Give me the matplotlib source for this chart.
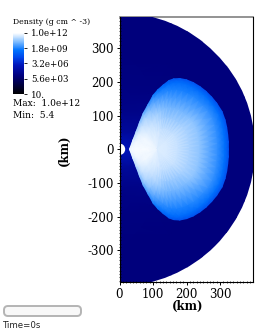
import numpy as np
import matplotlib
matplotlib.use('Agg')
import matplotlib.pyplot as plt
from matplotlib.colors import LinearSegmentedColormap, Normalize
from matplotlib.cm import ScalarMappable
from matplotlib.patches import Circle, FancyBboxPatch
from matplotlib.ticker import MultipleLocator
from matplotlib.transforms import IdentityTransform

W, H = 266, 332

# log10 density
ambient_theta_deg = [0, 30, 60, 90]
ambient_r = [0, 30, 60, 120, 200, 300, 460]
ambient_logd = [
    [6.2, 6.0, 5.3, 4.7, 4.4, 4.3, 4.3],
    [6.2, 5.9, 5.3, 4.7, 4.4, 4.3, 4.3],
    [6.0, 5.8, 5.2, 4.7, 4.4, 4.3, 4.3],
    [5.8, 5.6, 5.1, 4.6, 4.4, 4.3, 4.3],
]
shell_radius = 405
hole_radius = 17

lobe_center_x = 110
lobe_edge_x = [325, 325, 323, 320, 315, 306, 290, 275, 258, 240, 220, 200,
               180, 162, 148, 131, 115, 101, 86, 71, 60, 50, 40, 30]
lobe_edge_y = [0, 22, 43, 65, 87, 112, 137, 155, 172, 186, 198, 206,
               210, 209, 204, 191, 177, 161, 134, 107, 80, 53, 27, 0]
lobe_frac = [0, 0.3, 0.6, 0.85, 0.95, 1]
lobe_logd = [
    [11.7, 11.3, 10.6, 9.5, 8.8, 8.0],
    [11.7, 11.3, 10.6, 9.5, 8.8, 8.0],
    [11.7, 11.3, 10.6, 9.5, 8.8, 8.0],
    [11.7, 11.3, 10.6, 9.5, 8.8, 8.0],
    [11.7, 11.3, 10.6, 9.5, 8.8, 8.0],
    [11.7, 11.3, 10.6, 9.5, 8.8, 8.0],
    [11.7, 11.3, 10.6, 9.5, 8.8, 8.0],
    [11.7, 11.3, 10.5, 9.4, 8.8, 8.0],
    [11.7, 11.2, 10.4, 9.3, 8.8, 8.0],
    [11.7, 11.2, 10.3, 9.3, 8.7, 8.0],
    [11.7, 11.2, 10.3, 9.2, 8.7, 8.0],
    [11.7, 11.2, 10.2, 9.2, 8.7, 8.0],
    [11.7, 11.2, 10.2, 9.2, 8.7, 8.0],
    [11.7, 11.2, 10.3, 9.2, 8.7, 8.0],
    [11.7, 11.3, 10.4, 9.3, 8.8, 8.1],
    [11.7, 11.4, 10.6, 9.5, 9.0, 8.4],
    [11.7, 11.4, 10.8, 9.7, 9.2, 8.7],
    [11.7, 11.5, 11.0, 10.0, 9.5, 9.0],
    [11.7, 11.6, 11.2, 10.5, 10.0, 9.5],
    [11.7, 11.6, 11.4, 11.0, 10.5, 10.0],
    [11.7, 11.7, 11.6, 11.3, 10.9, 10.5],
    [11.7, 11.8, 11.8, 11.6, 11.3, 10.9],
    [11.7, 11.8, 11.8, 11.8, 11.6, 11.5],
    [11.7, 11.9, 11.9, 11.9, 11.9, 11.8],
]

bar_ticks = [12, 9.25, 6.5, 3.75, 1]
bar_labels = ['1.0e+12', '1.8e+09', '3.2e+06', '5.6e+03', '10.']
xticks = [0, 100, 200, 300]
yticks = [-300, -200, -100, 0, 100, 200, 300]

cmap = LinearSegmentedColormap.from_list('density', [
    (0.0, (0, 0, 0)),
    (0.3, (0, 0, 125 / 255)),
    (0.47, (0, 20 / 255, 185 / 255)),
    (0.6, (0, 70 / 255, 235 / 255)),
    (0.72, (0, 115 / 255, 1)),
    (0.86, (130 / 255, 190 / 255, 1)),
    (1.0, (1, 1, 1)),
])
norm = Normalize(1, 12)

fig = plt.figure(figsize=(W / 100, H / 100), dpi=100)
serif = 'DejaVu Serif'

ax = fig.add_axes([119.5 / W, 1 - 282 / H, 133 / W, 265.5 / H])

# ambient medium, polar about the origin, cut off at the outer shell
shell = Circle((0, 0), shell_radius, transform=ax.transData)
th, rr = np.meshgrid(np.radians(ambient_theta_deg), ambient_r, indexing='ij')
for sign in (1, -1):
    m = ax.pcolormesh(rr * np.cos(th), sign * rr * np.sin(th), np.array(ambient_logd),
                      shading='gouraud', cmap=cmap, norm=norm)
    m.set_clip_path(shell)

# lobe, rings between its centre and the outline
ex = np.array(lobe_edge_x, dtype=float)
ey = np.array(lobe_edge_y, dtype=float)
fr = np.array(lobe_frac)
lx = lobe_center_x + np.outer(ex - lobe_center_x, fr)
ly = np.outer(ey, fr)
for sign in (1, -1):
    ax.pcolormesh(lx, sign * ly, np.array(lobe_logd),
                  shading='gouraud', cmap=cmap, norm=norm)

ax.add_patch(Circle((0, 0), hole_radius, facecolor='white', edgecolor='none', zorder=2))

ax.set_xlim(0, 397)
ax.set_ylim(-394, 394)
ax.set_xticks(xticks)
ax.set_yticks(yticks)
ax.set_yticklabels([str(v) for v in yticks])
ax.xaxis.set_minor_locator(MultipleLocator(10))
ax.yaxis.set_minor_locator(MultipleLocator(10))
ax.tick_params(which='major', length=2.5, width=0.7, direction='out', pad=1.5, labelsize=8.5)
ax.tick_params(which='minor', length=1.2, width=0.5, direction='inout')
for lab in ax.get_xticklabels() + ax.get_yticklabels():
    lab.set_family(serif)
for name in ax.spines:
    ax.spines[name].set_linewidth(0.8)
ax.spines['top'].set_color('#808080')
ax.spines['top'].set_linewidth(1.2)
ax.spines['top'].set_zorder(0)

fig.text(188 / W, 1 - 306 / H, '(km)', family=serif, weight='bold', fontsize=8.5,
         ha='center', va='center')
fig.text(64 / W, 1 - 150 / H, '(km)', family=serif, weight='bold', fontsize=8.5,
         rotation=90, ha='center', va='center')

# legend
fig.text(13 / W, 1 - 22 / H, 'Density (g cm ^ -3)', family=serif, fontsize=5.6,
         ha='left', va='center')
cax = fig.add_axes([13 / W, 1 - 94 / H, 11 / W, 61 / H])
cb = fig.colorbar(ScalarMappable(norm=norm, cmap=cmap), cax=cax)
cb.outline.set_visible(False)
cb.set_ticks(bar_ticks)
cb.set_ticklabels(bar_labels)
cb.ax.tick_params(length=2, width=0.6, pad=3, labelsize=6.3)
for lab in cb.ax.get_yticklabels():
    lab.set_family(serif)
fig.text(13 / W, 1 - 104 / H, 'Max:  1.0e+12', family=serif, fontsize=6.5, ha='left', va='center')
fig.text(13 / W, 1 - 115 / H, 'Min:  5.4', family=serif, fontsize=6.5, ha='left', va='center')

# time slider, in pixels
slider = FancyBboxPatch((7, 19), 71, 4, transform=IdentityTransform(),
                        boxstyle='round,pad=3,rounding_size=4', facecolor='#f8f8f8',
                        edgecolor='#b4b4b4', linewidth=1.4)
fig.add_artist(slider)
fig.text(3 / W, 1 - 325 / H, 'Time=0s', fontsize=6.2, color='#222222', ha='left', va='center')

fig.savefig('out.png', dpi=100)
